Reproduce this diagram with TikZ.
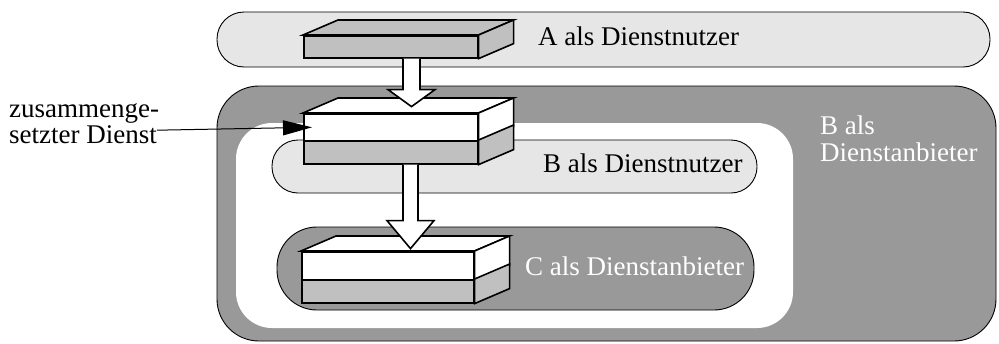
\documentclass[tikz,border=0pt]{standalone}
\usepackage{fontspec}
\setmainfont{Liberation Serif}
\usetikzlibrary{calc,arrows.meta}
\definecolor{paleGray}{HTML}{E6E6E6}
\definecolor{midGray}{HTML}{C0C0C0}
\definecolor{darkGray}{HTML}{999999}

\begin{document}
\begin{tikzpicture}[x=1pt,y=-1pt,
  pill/.style={draw=black, line width=0.9pt, rectangle, inner sep=0pt},
  face/.style={draw=black, line width=1.6pt, line join=miter},
  frontface/.style={face, rectangle, inner sep=0pt, minimum height=#1, anchor=north west},
  txt/.style={font=\fontsize{27}{27}\selectfont, anchor=base west, inner sep=0pt},
  blockarrow/.style={draw=black, line width=1.6pt, fill=white, line join=miter}]
\useasboundingbox (0,0) rectangle (999,343);

% regions
\node[pill, fill=darkGray, minimum width=779pt, minimum height=255pt, rounded corners=42pt] (Bprov) at (606.5,213.5) {};
\node[rectangle, fill=white, minimum width=557pt, minimum height=205pt, rounded corners=36pt, inner sep=0pt] (inner) at (514.5,225.5) {};
\node[pill, fill=paleGray, minimum width=485pt, minimum height=53pt, rounded corners=26pt] (Buser) at (514.5,166.5) {};
\node[pill, fill=darkGray, minimum width=477pt, minimum height=83pt, rounded corners=40pt] (Cprov) at (515.5,268.5) {};
\node[pill, fill=paleGray, minimum width=773pt, minimum height=55pt, rounded corners=27pt] (Auser) at (603.5,39.5) {};

% service A box
\node[frontface=22pt, fill=midGray, minimum width=174pt] (Af) at (303,35) {};
\draw[face, fill=midGray] (Af.north west) -- ($(Af.north west)+(35,-15)$) -- ($(Af.north east)+(35,-15)$) -- (Af.north east) -- cycle;
\draw[face, fill=midGray] (Af.north east) -- ($(Af.north east)+(35,-15)$) -- ($(Af.south east)+(35,-15)$) -- (Af.south east) -- cycle;

% composed service box
\node[frontface=27pt, fill=white, minimum width=174pt] (Bt) at (303,113) {};
\node[frontface=23pt, fill=midGray, minimum width=174pt] (Bb) at (303,140) {};
\draw[face, fill=white] (Bt.north west) -- ($(Bt.north west)+(35,-15)$) -- ($(Bt.north east)+(35,-15)$) -- (Bt.north east) -- cycle;
\draw[face, fill=white] (Bt.north east) -- ($(Bt.north east)+(35,-15)$) -- ($(Bt.south east)+(35,-15)$) -- (Bt.south east) -- cycle;
\draw[face, fill=midGray] (Bb.north east) -- ($(Bb.north east)+(35,-15)$) -- ($(Bb.south east)+(35,-15)$) -- (Bb.south east) -- cycle;

% service C box
\node[frontface=28pt, fill=white, minimum width=172pt] (Ct) at (301,251) {};
\node[frontface=23pt, fill=midGray, minimum width=172pt] (Cb) at (301,279) {};
\draw[face, fill=white] (Ct.north west) -- ($(Ct.north west)+(35,-15)$) -- ($(Ct.north east)+(35,-15)$) -- (Ct.north east) -- cycle;
\draw[face, fill=white] (Ct.north east) -- ($(Ct.north east)+(35,-15)$) -- ($(Ct.south east)+(35,-15)$) -- (Ct.south east) -- cycle;
\draw[face, fill=midGray] (Cb.north east) -- ($(Cb.north east)+(35,-15)$) -- ($(Cb.south east)+(35,-15)$) -- (Cb.south east) -- cycle;

% block arrows between the boxes
\coordinate (sA) at ($(Af.south west)+(108.5,0)$);
\draw[blockarrow] ($(sA)+(-8.5,0)$) -- ($(sA)+(-8.5,31)$) -- ($(sA)+(-23.5,31)$) -- ($(sA)+(0,48)$) -- ($(sA)+(23.5,31)$) -- ($(sA)+(8.5,31)$) -- ($(sA)+(8.5,0)$);
\coordinate (sB) at ($(Bb.south west)+(107.5,0)$);
\draw[blockarrow] ($(sB)+(-7.5,0)$) -- ($(sB)+(-7.5,56)$) -- ($(sB)+(-23.5,56)$) -- ($(sB)+(0,84)$) -- ($(sB)+(23.5,56)$) -- ($(sB)+(7.5,56)$) -- ($(sB)+(7.5,0)$);

% labels
\node[txt] (tA) at (538,45) {A als Dienstnutzer};
\node[txt] (tB) at (543,172) {B als Dienstnutzer};
\node[txt, text=white] (tC) at (525,275) {C als Dienstanbieter};
\node[txt, text=white] (tP1) at (820,134) {B als};
\node[txt, text=white] (tP2) at (820,161) {Dienstanbieter};
\node[txt] (z1) at (9,117) {zusammenge-};
\node[txt] (z2) at (9,143) {setzter Dienst};

% pointer to the composed service
\draw[line width=1pt, -{Triangle[length=29pt,width=15pt]}] ($(z2.east)+(0,-4)$) -- ($(Bt.west)+(9,0)$);
\end{tikzpicture}
\end{document}
